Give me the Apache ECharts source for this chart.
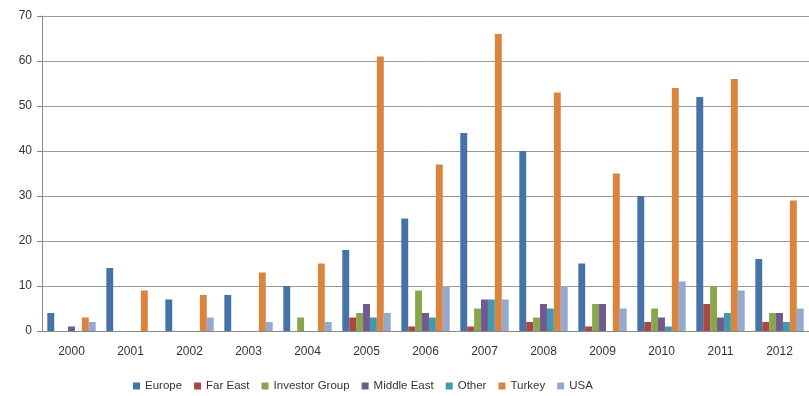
<!DOCTYPE html>
<html>
<head>
<meta charset="utf-8">
<script src="https://cdn.jsdelivr.net/npm/echarts@6/dist/echarts.min.js"></script>
<style>
  html, body { margin: 0; padding: 0; background: #fff; }
  #chart { width: 809px; height: 396px; }
</style>
</head>
<body>
<div id="chart"></div>
<script>
var years = ['2000', '2001', '2002', '2003', '2004', '2005', '2006', '2007', '2008', '2009', '2010', '2011', '2012'];
var europe = [4, 14, 7, 8, 10, 18, 25, 44, 40, 15, 30, 52, 16];
var farEast = [0, 0, 0, 0, 0, 3, 1, 1, 2, 1, 2, 6, 2];
var investorGroup = [0, 0, 0, 0, 3, 4, 9, 5, 3, 6, 5, 10, 4];
var middleEast = [1, 0, 0, 0, 0, 6, 4, 7, 6, 6, 3, 3, 4];
var other = [0, 0, 0, 0, 0, 3, 3, 7, 5, 0, 1, 4, 2];
var turkey = [3, 9, 8, 13, 15, 61, 37, 66, 53, 35, 54, 56, 29];
var usa = [2, 0, 3, 2, 2, 4, 10, 7, 10, 5, 11, 9, 5];
var yTicks = [0, 10, 20, 30, 40, 50, 60, 70];

var names = ['Europe', 'Far East', 'Investor Group', 'Middle East', 'Other', 'Turkey', 'USA'];
var values = [europe, farEast, investorGroup, middleEast, other, turkey, usa];
var colors = ['#4572A7', '#AA4643', '#89A54E', '#71588F', '#4198AF', '#DB843D', '#93A9CF'];

var myChart = echarts.init(document.getElementById('chart'));
var series = names.map(function (n, i) {
  return {
    name: n,
    type: 'bar',
    data: values[i],
    barGap: '0%',
    barCategoryGap: '18%',
    itemStyle: { color: colors[i] },
    emphasis: { disabled: true }
  };
});

var option = {
  animation: false,
  color: colors,
  grid: {
    left: 42,
    top: 16,
    right: -7,
    bottom: 65
  },
  legend: {
    left: 128,
    top: 375,
    itemWidth: 7,
    itemHeight: 7,
    itemGap: 12,
    icon: 'rect',
    textStyle: { color: '#333', fontSize: 11.5, fontFamily: 'Liberation Sans' },
    data: names
  },
  xAxis: {
    type: 'category',
    data: years,
    axisLine: { lineStyle: { color: '#888' } },
    axisTick: { length: 6, lineStyle: { color: '#888' } },
    axisLabel: { color: '#333', fontSize: 12, fontFamily: 'Liberation Sans', margin: 15 }
  },
  yAxis: {
    type: 'value',
    min: yTicks[0],
    max: yTicks[yTicks.length - 1],
    interval: 10,
    axisLine: { show: true, lineStyle: { color: '#888' } },
    axisTick: { show: true, length: 5, lineStyle: { color: '#888' } },
    axisLabel: { color: '#333', fontSize: 12, fontFamily: 'Liberation Sans', margin: 10 },
    splitLine: { lineStyle: { color: '#999' } }
  },
  series: series
};
myChart.setOption(option);
</script>
</body>
</html>
